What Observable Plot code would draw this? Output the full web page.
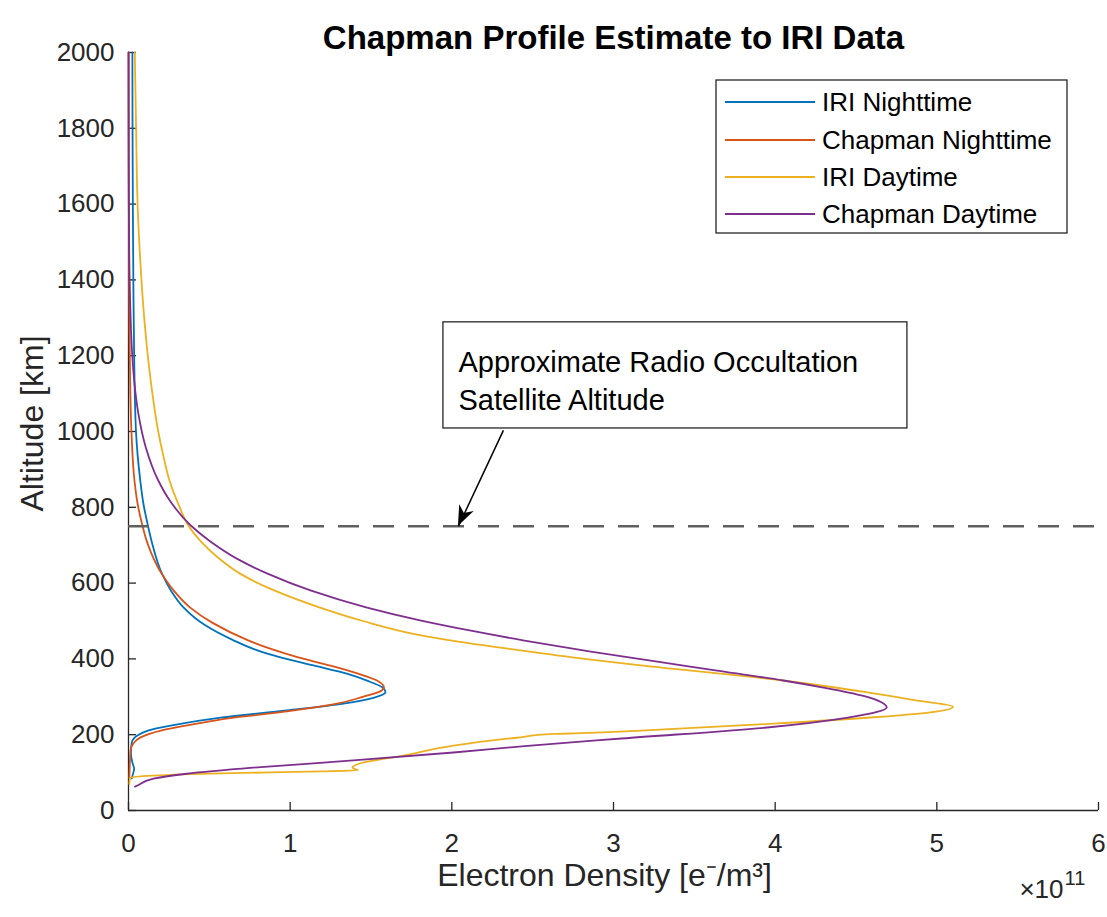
<!DOCTYPE html>
<html>
<head>
<meta charset="utf-8">
<script src="https://cdn.jsdelivr.net/npm/d3@7"></script>
<script src="https://cdn.jsdelivr.net/npm/@observablehq/plot@0.6"></script>
<style>
  body { margin: 0; background: #ffffff; }
  #chart { width: 1107px; height: 917px; }
</style>
</head>
<body>
<div id="chart"></div>
<script>
// ---- Data (density in units of 1e11 e-/m^3, altitude in km) ----
const chartTitle = "Chapman Profile Estimate to IRI Data";
const xLabel = "Electron Density [e\u207B/m\u00B3]";
const yLabel = "Altitude [km]";
const seriesNames = ["IRI Nighttime", "Chapman Nighttime", "IRI Daytime", "Chapman Daytime"];
const seriesColors = ["#0072BD", "#D95319", "#EDB120", "#7E2F8E"];

const iriNightAltitude = [85, 100, 110, 125, 150, 179, 198, 211, 224, 245, 264, 282, 298, 312, 325, 342, 361, 382, 404, 425, 449, 490, 536, 580, 625, 712, 752, 810, 870, 1003, 1200, 1400, 1600, 1800, 2000];
const iriNightDensity  = [0.02, 0.03, 0.035, 0.025, 0.015, 0.02, 0.055, 0.12, 0.26, 0.57, 0.98, 1.33, 1.52, 1.59, 1.57, 1.48, 1.35, 1.15, 0.94, 0.78, 0.65, 0.47, 0.34, 0.263, 0.207, 0.142, 0.12, 0.092, 0.073, 0.046, 0.035, 0.03, 0.027, 0.025, 0.024];

const chapNightAltitude = [85, 120, 158, 177, 193, 211, 232, 245, 256, 270, 282, 300, 315, 325, 340, 361, 382, 404, 425, 449, 495, 536, 580, 607, 625, 680, 712, 752, 810, 870, 1003, 1200, 1400, 1700, 2000];
const chapNightDensity  = [0.005, 0.008, 0.012, 0.03, 0.075, 0.2, 0.46, 0.65, 0.88, 1.12, 1.29, 1.45, 1.56, 1.58, 1.55, 1.42, 1.25, 1.05, 0.89, 0.74, 0.52, 0.38, 0.28, 0.233, 0.205, 0.14, 0.112, 0.086, 0.056, 0.037, 0.018, 0.008, 0.004, 0.002, 0.001];

const iriDayAltitude = [70, 86, 92, 98, 103, 106, 113, 124, 145, 171, 192, 202, 204, 211, 229, 246, 259, 274, 290, 311, 343, 383, 400, 425, 445, 462, 500, 536, 580, 625, 665, 712, 752, 800, 870, 935, 1000, 1075, 1153, 1240, 1327, 1450, 1591, 1800, 2000];
const iriDayDensity  = [0.005, 0.01, 0.15, 0.57, 1.19, 1.42, 1.385, 1.43, 1.70, 2.01, 2.40, 2.63, 2.80, 3.17, 3.99, 4.61, 4.96, 5.10, 4.88, 4.58, 4.05, 3.17, 2.82, 2.38, 2.05, 1.81, 1.45, 1.18, 0.905, 0.69, 0.56, 0.443, 0.37, 0.317, 0.254, 0.216, 0.184, 0.156, 0.132, 0.110, 0.092, 0.073, 0.057, 0.047, 0.039];

const chapDayAltitude = [63, 66, 84, 97, 113, 132, 153, 170, 190, 219, 245, 260, 272, 285, 303, 325, 343, 370, 396, 420, 449, 475, 501, 536, 580, 625, 660, 712, 752, 826, 870, 958, 1047, 1135, 1200, 1400, 1600, 1800, 2000];
const chapDayDensity  = [0.04, 0.055, 0.155, 0.36, 0.77, 1.39, 2.01, 2.45, 3.05, 3.95, 4.45, 4.63, 4.69, 4.66, 4.54, 4.29, 4.05, 3.63, 3.22, 2.85, 2.44, 2.11, 1.81, 1.47, 1.13, 0.86, 0.69, 0.50, 0.385, 0.243, 0.185, 0.107, 0.061, 0.035, 0.0235, 0.007, 0.002, 0.0006, 0.0002];

const xTicks = [0, 1, 2, 3, 4, 5, 6];
const yTicks = [0, 200, 400, 600, 800, 1000, 1200, 1400, 1600, 1800, 2000];
const occultationAltitude = 750;
const annotationText = "Approximate Radio Occultation\nSatellite Altitude";
const annotationBox = {x1: 1.948, x2: 4.818, y1: 1008, y2: 1288};
const annotationArrow = {x1: 2.319, y1: 1003, x2: 2.041, y2: occultationAltitude};

// ---- Layout ----
const W = 1107, H = 917;
const mTop = 52, mRight = 9, mBottom = 107, mLeft = 128;
const frameW = W - mLeft - mRight;
const frameH = H - mTop - mBottom;
const axisColor = "#262626";
const fontFamily = "'Liberation Sans', Arial, Helvetica, sans-serif";

function zipSeries(name, den, alt) {
  return den.map((d, i) => ({series: name, density: d, altitude: alt[i]}));
}
const rows = [
  ...zipSeries(seriesNames[0], iriNightDensity, iriNightAltitude),
  ...zipSeries(seriesNames[1], chapNightDensity, chapNightAltitude),
  ...zipSeries(seriesNames[2], iriDayDensity, iriDayAltitude),
  ...zipSeries(seriesNames[3], chapDayDensity, chapDayAltitude)
];

const chart = Plot.plot({
  width: W,
  height: H,
  marginTop: mTop,
  marginRight: mRight,
  marginBottom: mBottom,
  marginLeft: mLeft,
  x: {domain: [0, 6]},
  y: {domain: [0, 2000]},
  color: {domain: seriesNames, range: seriesColors},
  style: {fontFamily, fontSize: "26px", color: axisColor, background: "white", overflow: "visible"},
  marks: [
    Plot.ruleX([0], {stroke: axisColor, strokeWidth: 1.3}),
    Plot.ruleY([0], {stroke: axisColor, strokeWidth: 1.3}),
    Plot.tickX(xTicks, {x: d => d, insetTop: frameH - 8, stroke: axisColor, strokeWidth: 1.3}),
    Plot.tickY(yTicks, {y: d => d, insetRight: frameW - 8, stroke: axisColor, strokeWidth: 1.3}),
    Plot.axisX({ticks: xTicks, tickSize: 0, tickPadding: 23, tickFormat: d => String(d), label: null, fontSize: 26, fill: axisColor}),
    Plot.axisY({ticks: yTicks, tickSize: 0, tickPadding: 14, tickFormat: d => String(d), label: null, fontSize: 26, fill: axisColor}),
    Plot.line(rows, {x: "density", y: "altitude", z: "series", stroke: "series", strokeWidth: 1.8, curve: "monotone-y"}),
    Plot.ruleY([occultationAltitude], {stroke: "#606060", strokeWidth: 2.5, strokeDasharray: "21,14"}),
    Plot.rect([annotationBox], {x1: "x1", x2: "x2", y1: "y1", y2: "y2", fill: "white", stroke: axisColor, strokeWidth: 1.3}),
    Plot.text([annotationText], {text: d => d, x: annotationBox.x1, y: annotationBox.y2, dx: 15, dy: 23, textAnchor: "start", lineAnchor: "top", lineHeight: 1.3, fontSize: 29, fill: "black"}),
    Plot.link([annotationArrow], {x1: "x1", y1: "y1", x2: "x2", y2: "y2", stroke: "black", strokeWidth: 1.5}),
    Plot.text([chartTitle], {text: d => d, frameAnchor: "top", dy: -27, textAnchor: "middle", fontSize: 33, fontWeight: "bold", fill: "black"}),
    Plot.text([yLabel], {text: d => d, frameAnchor: "left", dx: -96, dy: -8, rotate: -90, textAnchor: "middle", fontSize: 32, fill: axisColor}),
    Plot.text([xLabel], {text: d => d, frameAnchor: "bottom", dx: -9, dy: 75, textAnchor: "middle", fontSize: 32, fill: axisColor}),
    Plot.text(["\u00D710"], {text: d => d, frameAnchor: "bottom-right", dx: -35, dy: 87, textAnchor: "end", fontSize: 26, fill: axisColor}),
    Plot.text(["11"], {text: d => d, frameAnchor: "bottom-right", dx: -34, dy: 74, textAnchor: "start", fontSize: 20, fill: axisColor})
  ]
});

document.getElementById("chart").appendChild(chart);

// ---- Arrowhead (filled, MATLAB-style) using the plot's scales ----
const sx = chart.scale("x"), sy = chart.scale("y");
const svg = d3.select(chart);
{
  const tx = sx.apply(annotationArrow.x2), ty = sy.apply(annotationArrow.y2);
  const fx = sx.apply(annotationArrow.x1), fy = sy.apply(annotationArrow.y1);
  const len = Math.hypot(tx - fx, ty - fy);
  const ux = (tx - fx) / len, uy = (ty - fy) / len;
  const nx = -uy, ny = ux;
  const L = 20, Wd = 8, notch = 6;
  const bx = tx - ux * L, by = ty - uy * L;
  const pts = [
    [tx, ty],
    [bx + nx * Wd, by + ny * Wd],
    [tx - ux * (L - notch), ty - uy * (L - notch)],
    [bx - nx * Wd, by - ny * Wd]
  ];
  svg.append("path")
    .attr("d", "M" + pts.map(p => p.join(",")).join("L") + "Z")
    .attr("fill", "black");
}

// ---- Legend ----
{
  const g = svg.append("g").attr("font-family", fontFamily).attr("font-size", 26).attr("text-anchor", "start");
  const box = {x: 716, y: 80, w: 351, h: 153};
  g.append("rect").attr("x", box.x).attr("y", box.y).attr("width", box.w).attr("height", box.h)
    .attr("fill", "white").attr("stroke", axisColor).attr("stroke-width", 1.3);
  const rowY = [102, 140, 177, 214];
  seriesNames.forEach((name, i) => {
    g.append("line").attr("x1", 725).attr("x2", 815).attr("y1", rowY[i]).attr("y2", rowY[i])
      .attr("stroke", seriesColors[i]).attr("stroke-width", 1.8);
    g.append("text").attr("x", 822).attr("y", rowY[i]).attr("dy", "0.35em")
      .attr("text-anchor", "start").attr("fill", "black").text(name);
  });
}
</script>
</body>
</html>
